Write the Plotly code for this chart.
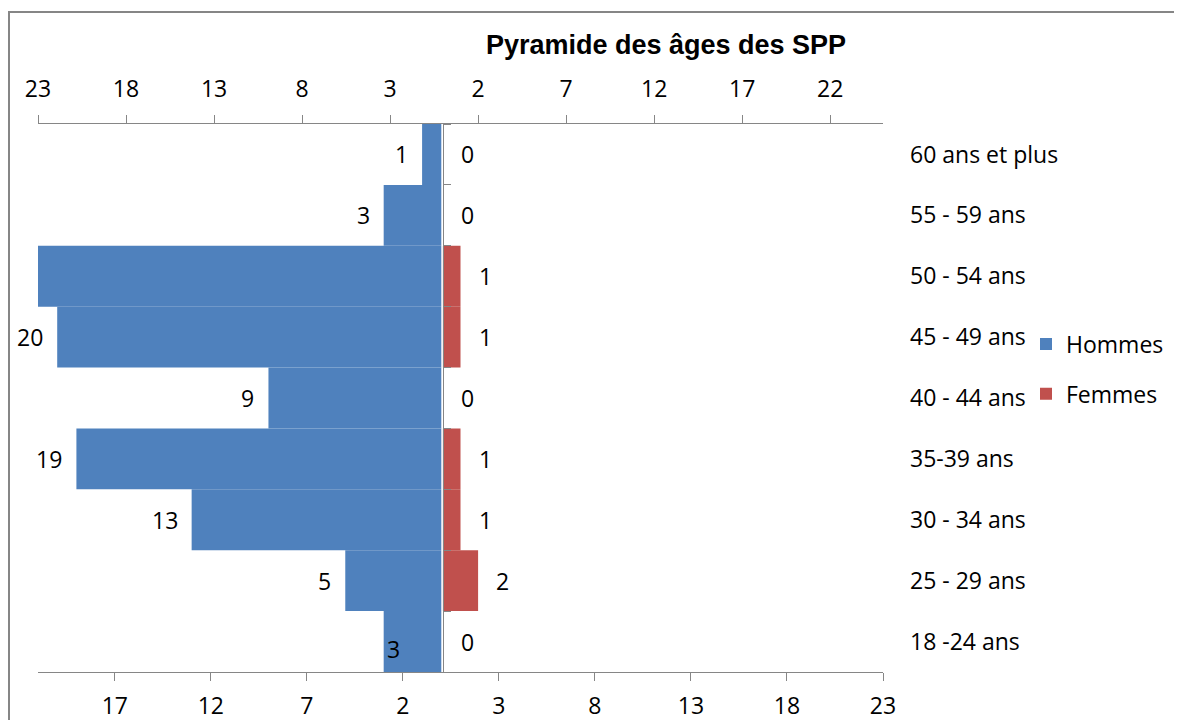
import plotly.graph_objects as go

# categories bottom -> top
tranches = ["18 -24 ans", "25 - 29 ans", "30 - 34 ans", "35-39 ans", "40 - 44 ans",
            "45 - 49 ans", "50 - 54 ans", "55 - 59 ans", "60 ans et plus"]
hommes = [3, 5, 13, 19, 9, 20, 22, 3, 1]
femmes = [0, 2, 1, 1, 0, 1, 1, 0, 0]

# axe du bas (hommes) et axe du haut (femmes), valeurs affichees en absolu
ticks_bas = [-17, -12, -7, -2, 3, 8, 13, 18, 23]
ticks_haut = [-23, -18, -13, -8, -3, 2, 7, 12, 17, 22]
range_bas = [-21, 23]
range_haut = [-23, 25]

BLEU = "#4F81BD"
ROUGE = "#C0504D"
GRIS = "#868686"
POLICE = "Open Sans"
TAILLE = 23

# la page html ajoute 8px de marge au body -> on decale tout de 8px
OFF = 8
W, H = 1182 - OFF, 720 - OFF
L, T = 38 - OFF, 124 - OFF
R = W - (883 - OFF)
B = H - (672 - OFF)
PW, PH = W - L - R, H - T - B

fig = go.Figure()
fig.add_trace(go.Bar(y=tranches, x=[-v for v in hommes], orientation="h", name="Hommes",
                     marker=dict(color=BLEU, line=dict(width=0)), width=1,
                     xaxis="x", yaxis="y", legendgroup="h"))
fig.add_trace(go.Bar(y=tranches, x=femmes, orientation="h", name="Femmes",
                     marker=dict(color=ROUGE, line=dict(width=0)), width=1,
                     xaxis="x2", yaxis="y2", legendgroup="f"))

# etiquettes de donnees
police_lbl = dict(family=POLICE, size=TAILLE, color="black")
annots = []
for i, (cat, v) in enumerate(zip(tranches, hommes)):
    if v > -range_bas[0]:
        continue  # barre coupee par l'axe -> pas d'etiquette
    if i == 0:
        # Excel a pose celle-ci dans la barre
        annots.append(dict(x=-v, y=cat, xref="x", yref="y", text=str(v), showarrow=False,
                           xanchor="left", xshift=1, yshift=-7, font=police_lbl))
    else:
        annots.append(dict(x=-v, y=cat, xref="x", yref="y", text=str(v), showarrow=False,
                           xanchor="right", xshift=-12, font=police_lbl))
for cat, v in zip(tranches, femmes):
    annots.append(dict(x=v, y=cat, xref="x2", yref="y2", text=str(v), showarrow=False,
                       xanchor="left", xshift=16, font=police_lbl))

axe_x = dict(showgrid=False, zeroline=False, showline=True, linecolor=GRIS, linewidth=1,
             ticks="outside", ticklen=8, tickcolor=GRIS, tickwidth=1, automargin=False,
             tickfont=dict(family=POLICE, size=TAILLE, color="black"))

zero_frac = (0 - range_haut[0]) / (range_haut[1] - range_haut[0])

fig.update_layout(
    width=W, height=H,
    margin=dict(l=L, r=R, t=T, b=B),
    paper_bgcolor="white", plot_bgcolor="white",
    barmode="overlay",
    title=dict(text="<b>Pyramide des âges des SPP</b>", x=(666 - OFF) / W, xref="container",
               xanchor="center", y=1 - (45 - OFF) / H, yref="container", yanchor="middle",
               automargin=False, font=dict(family="Liberation Sans", size=27, color="black")),
    xaxis=dict(axe_x, range=range_bas, tickvals=ticks_bas, ticktext=[str(abs(t)) for t in ticks_bas],
               side="bottom", anchor="y", ticklabelstandoff=5),
    xaxis2=dict(axe_x, range=range_haut, tickvals=ticks_haut, ticktext=[str(abs(t)) for t in ticks_haut],
                side="top", anchor="y2", overlaying="x", ticklabelstandoff=9),
    yaxis=dict(type="category", categoryorder="array", categoryarray=tranches, range=[-0.5, 8.5],
               side="right", showline=False, ticks="", showgrid=False, zeroline=False, automargin=False,
               ticklabelstandoff=26, tickfont=dict(family=POLICE, size=TAILLE, color="black")),
    yaxis2=dict(type="category", categoryorder="array", categoryarray=tranches, range=[-0.5, 8.5],
                overlaying="y", anchor="free", position=zero_frac, side="right", automargin=False,
                showline=True, linecolor=GRIS, linewidth=1, ticks="outside", tickson="boundaries",
                ticklen=7, tickcolor=GRIS, showticklabels=False, showgrid=False, zeroline=False),
    # bord droit de la legende + 12px de marge plotly doit rester dans la figure
    legend=dict(x=(1169 - OFF - L) / PW, xanchor="right", y=(T + PH - (369 - OFF)) / PH, yanchor="middle",
                traceorder="grouped", tracegroupgap=17, itemclick=False,
                font=dict(family=POLICE, size=TAILLE, color="black")),
    annotations=annots,
    shapes=[dict(type="rect", xref="paper", yref="paper",
                 x0=(1 - L) / PW, x1=(W + 50 - L) / PW, y0=-0.3, y1=(T + PH - (12 - OFF)) / PH,
                 line=dict(color=GRIS, width=2), layer="below")],
    font=dict(family=POLICE),
)

fig.write_html("out.html")
